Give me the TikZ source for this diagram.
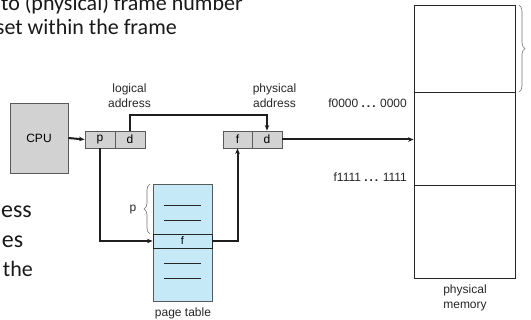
\documentclass[tikz,border=0pt]{standalone}
\usepackage{fontspec}
\setmainfont{Liberation Sans}
\newfontfamily\slidefont{Carlito}
\usetikzlibrary{arrows.meta,decorations.pathreplacing}
\definecolor{boxgray}{HTML}{D2D2D2}
\definecolor{boxedge}{HTML}{5A5A5A}
\definecolor{ptblue}{HTML}{C6E9F8}
\definecolor{lineblack}{HTML}{1E1E1E}
\tikzset{
  cell/.style={draw=boxedge, fill=boxgray, line width=0.9pt, minimum width=30pt, minimum height=17pt, inner sep=0pt, font=\fontsize{12}{14}\selectfont},
  lbl/.style={font=\fontsize{12}{15}\selectfont, align=center, inner sep=0pt, text=black!85},
  big/.style={font=\slidefont\fontsize{22}{26}\selectfont, inner sep=0pt, anchor=base east, text=black!90},
  bigger/.style={big, font=\slidefont\fontsize{24}{28}\selectfont},
  conn/.style={draw=lineblack, line width=2pt, -{Stealth[length=5.5pt,width=4.5pt]}},
  memline/.style={draw=black!85, line width=0.9pt},
  brace/.style={draw=black!55, line width=0.6pt, decorate, decoration={brace, amplitude=6pt}},
}
\begin{document}
\begin{tikzpicture}[x=1pt,y=-1pt]
\useasboundingbox (0,0) rectangle (531,320);
\clip (0,0) rectangle (531,320);
% slide text (cut off at the left edge)
\node[big] (t1) at (243,11) {to (physical) frame number};
\node[big] (t2) at (177,35) {set within the frame};
\node[bigger] (t3) at (32,218) {ess};
\node[bigger] (t4) at (23.5,248) {es};
\node[big] (t5) at (33,277) {the};
% CPU
\node[draw=boxedge, fill=boxgray, line width=0.9pt, minimum width=58pt, minimum height=70pt, inner sep=0pt, font=\fontsize{12}{14}\selectfont] (cpu) at (39,138) {CPU};
% logical address
\node[cell] (p) at (100,139.5) {p};
\node[cell] (d1) at (130,139.5) {d};
\node[lbl] (la) at (129.5,95.5) {logical\\address};
% physical address
\node[cell, minimum width=29pt] (f) at (237.5,139.5) {f};
\node[cell] (d2) at (267,139.5) {d};
\node[lbl] (pa) at (274.5,95.5) {physical\\address};
% page table
\node[draw=boxedge, fill=ptblue, line width=0.9pt, minimum width=59pt, minimum height=117pt, inner sep=0pt] (pt) at (182.5,242.5) {};
\node[draw=black!85, fill=ptblue, line width=0.9pt, minimum width=59pt, minimum height=14pt, inner sep=0pt, font=\fontsize{11}{12}\selectfont] (frow) at (182.5,241) {f};
\draw[memline] (164,205) -- (201,205) (164,220) -- (201,220) (164,263) -- (201,263) (164,278) -- (201,278);
\node[lbl] (ptl) at (183,313) {page table};
\coordinate (pb1) at (150,234);
\coordinate (pb2) at (150,184);
\draw[brace] (pb1) -- (pb2);
\node[lbl] (plab) at (133,210) {p};
% physical memory
\node[draw=black!85, line width=0.9pt, minimum width=101pt, minimum height=273pt, inner sep=0pt] (mem) at (464.5,141.5) {};
\draw[memline] (414,92) -- (515,92) (414,185) -- (515,185);
\node[lbl, anchor=east] (m0) at (407,103) {f0000 {\bfseries .\,.\,.} 0000};
\node[lbl, anchor=east] (m1) at (407,177) {f1111 {\bfseries .\,.\,.} 1111};
\node[lbl] (ml) at (465,297.5) {physical\\memory};
\coordinate (mb1) at (519,5);
\coordinate (mb2) at (519,92);
\draw[brace] (mb1) -- (mb2);
% connectors
\draw[conn] (cpu.east) -- (p.west);
\draw[conn] (d1.north) -- ++(0,-16) -| (d2.north);
\draw[conn] (p.south) |- (pt.west |- frow.west);
\draw[conn] (frow.east) -| (f.south);
\draw[conn] (d2.east) -- (mem.west |- d2.east);
\end{tikzpicture}
\end{document}
